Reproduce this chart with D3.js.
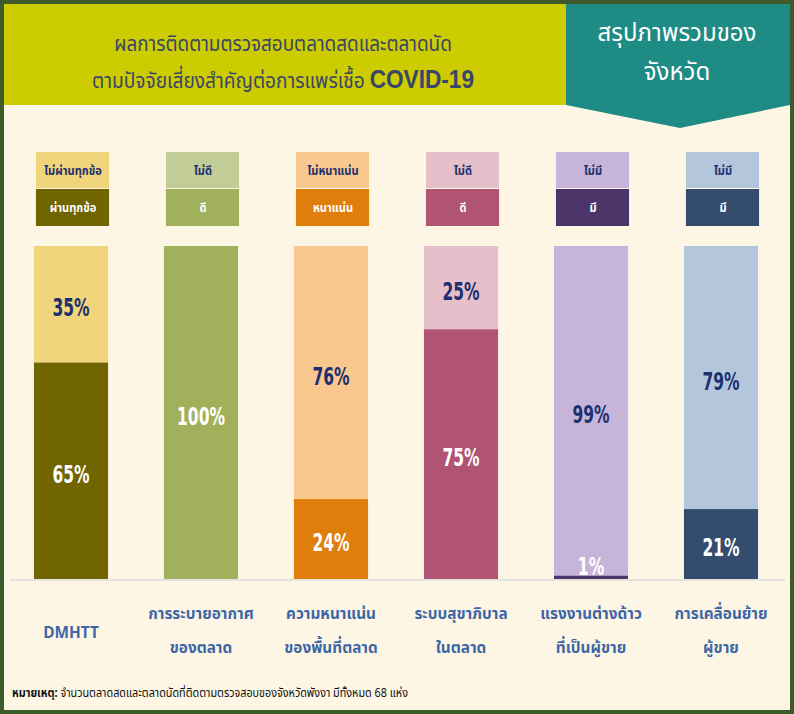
<!DOCTYPE html>
<html>
<head>
<meta charset="utf-8">
<script src="https://cdn.jsdelivr.net/npm/d3@7"></script>
<style>
  body { margin: 0; background: #fdf6e4; }
  svg { display: block; }
</style>
</head>
<body>
<div id="chart"></div>
<script>
// data
const categories = ['DMHTT', 'การระบายอากาศ|ของตลาด', 'ความหนาแน่น|ของพื้นที่ตลาด', 'ระบบสุขาภิบาล|ในตลาด', 'แรงงานต่างด้าว|ที่เป็นผู้ขาย', 'การเคลื่อนย้าย|ผู้ขาย'];
const passValues = [65, 100, 24, 75, 1, 21];
const failValues = [35, 0, 76, 25, 99, 79];
const passLabels = ['ผ่านทุกข้อ', 'ดี', 'หนาแน่น', 'ดี', 'มี', 'มี'];
const failLabels = ['ไม่ผ่านทุกข้อ', 'ไม่ดี', 'ไม่หนาแน่น', 'ไม่ดี', 'ไม่มี', 'ไม่มี'];

const darkColors = ['#706500', '#a1b05a', '#e07e0c', '#b15473', '#4d356a', '#344c6e'];
const lightColors = ['#f0d57a', '#c2cc96', '#f8c88f', '#e5bfca', '#c6b4d9', '#b4c6dc'];

const width = 794;
const height = 714;
const thaiFont = "'Noto Sans Thai', 'Noto Sans Thai UI', 'Loma', 'Garuda', 'Tahoma', sans-serif";
const numFont = "'DejaVu Sans', sans-serif";

const rows = categories.map((c, i) => ({
  cat: c,
  pass: passValues[i],
  fail: failValues[i],
  passLabel: passLabels[i],
  failLabel: failLabels[i],
  dark: darkColors[i],
  light: lightColors[i]
}));

const svg = d3.select('#chart')
    .append('svg')
    .attr('width', width)
    .attr('height', height);

// squeeze text sideways, the source uses condensed fonts
function placeText(parent, px, py, sx) {
  return parent.append('text')
      .attr('transform', `translate(${px},${py}) scale(${sx},1)`);
}

svg.append('rect')
    .attr('width', width)
    .attr('height', height)
    .attr('fill', '#fdf6e4');

// header
svg.append('rect')
    .attr('x', 4).attr('y', 4)
    .attr('width', 562).attr('height', 101)
    .attr('fill', '#cccc00');

svg.append('path')
    .attr('d', 'M566,4 L790,4 L790,105 L680,128 L566,105 Z')
    .attr('fill', '#1e8b84');

const title = svg.append('g')
    .attr('font-family', thaiFont)
    .attr('fill', '#3a4668')
    .attr('text-anchor', 'middle');

placeText(title, 283, 51, 0.86)
    .attr('font-size', 22)
    .text('ผลการติดตามตรวจสอบตลาดสดและตลาดนัด');

const line2 = placeText(title, 283, 88, 0.87)
    .attr('font-size', 22);
line2.append('tspan').text('ตามปัจจัยเสี่ยงสำคัญต่อการแพร่เชื้อ ');
line2.append('tspan')
    .attr('font-family', "'Liberation Sans', Arial, sans-serif")
    .attr('font-weight', 'bold')
    .attr('font-size', 26)
    .text('COVID-19');

svg.append('text')
    .attr('x', 677).attr('y', 41)
    .attr('text-anchor', 'middle')
    .attr('font-family', thaiFont)
    .attr('font-size', 24)
    .attr('fill', '#ffffff')
    .text('สรุปภาพรวมของ');

svg.append('text')
    .attr('x', 677).attr('y', 80)
    .attr('text-anchor', 'middle')
    .attr('font-family', thaiFont)
    .attr('font-size', 24)
    .attr('fill', '#ffffff')
    .text('จังหวัด');

// scales
const x = d3.scaleBand()
    .domain(categories)
    .range([6, 786])
    .paddingInner(0.43)
    .paddingOuter(0.215);

const y = d3.scaleLinear()
    .domain([0, 100])
    .range([579, 246]);

const bw = x.bandwidth();

// legend boxes
const legend = svg.append('g')
    .selectAll('g')
    .data(rows)
    .join('g')
    .attr('transform', d => `translate(${x(d.cat) + 2},0)`);

legend.append('rect')
    .attr('y', 152).attr('width', bw - 1).attr('height', 36)
    .attr('fill', d => d.light);

legend.append('rect')
    .attr('y', 189).attr('width', bw - 1).attr('height', 37)
    .attr('fill', d => d.dark);

legend.each(function(d) {
  const g = d3.select(this);
  placeText(g, bw / 2, 175, 0.85)
      .attr('text-anchor', 'middle')
      .attr('font-family', thaiFont)
      .attr('font-weight', 'bold')
      .attr('font-size', 13)
      .attr('fill', '#1c2f6e')
      .text(d.failLabel);
  placeText(g, bw / 2, 212, 0.85)
      .attr('text-anchor', 'middle')
      .attr('font-family', thaiFont)
      .attr('font-weight', 'bold')
      .attr('font-size', 13)
      .attr('fill', '#ffffff')
      .text(d.passLabel);
});

// bars
const bars = svg.append('g')
    .selectAll('g')
    .data(rows)
    .join('g')
    .attr('transform', d => `translate(${x(d.cat)},0)`);

bars.append('rect')
    .attr('y', d => y(d.pass + d.fail))
    .attr('width', bw)
    .attr('height', d => y(d.pass) - y(d.pass + d.fail))
    .attr('fill', d => d.light);

bars.append('rect')
    .attr('y', d => y(d.pass))
    .attr('width', bw)
    .attr('height', d => y(0) - y(d.pass))
    .attr('fill', d => d.dark);

// value labels
bars.each(function(d) {
  const g = d3.select(this);
  if (d.fail > 0) {
    const cy = (y(d.pass) + y(d.pass + d.fail)) / 2;
    placeText(g, bw / 2, cy + 12, 0.62)
        .attr('text-anchor', 'middle')
        .attr('font-family', numFont)
        .attr('font-weight', 'bold')
        .attr('font-size', 25)
        .attr('fill', '#1c2f6e')
        .text(d.fail + '%');
  }
  const h = y(0) - y(d.pass);
  const cy = h < 30 ? y(d.pass) - 13 : y(d.pass) + h / 2;
  placeText(g, bw / 2, cy + 12, 0.62)
      .attr('text-anchor', 'middle')
      .attr('font-family', numFont)
      .attr('font-weight', 'bold')
      .attr('font-size', 25)
      .attr('fill', '#ffffff')
      .text(d.pass + '%');
});

// baseline
svg.append('line')
    .attr('x1', 10).attr('x2', 785)
    .attr('y1', 580).attr('y2', 580)
    .attr('stroke', '#dedede')
    .attr('stroke-width', 1.5);

// category labels
svg.append('g')
    .selectAll('g')
    .data(categories)
    .join('g')
    .each(function(d) {
      const lines = d.split('|');
      const cx = x(d) + bw / 2;
      const top = lines.length === 1 ? 638 : 619;
      lines.forEach((ln, k) => {
        placeText(d3.select(this), cx, top + k * 34, 0.93)
            .attr('text-anchor', 'middle')
            .attr('font-family', thaiFont)
            .attr('font-weight', 'bold')
            .attr('font-size', 16.5)
            .attr('fill', '#3d66a6')
            .text(ln);
      });
    });

// footnote
const note = placeText(svg, 12, 697, 0.9)
    .attr('font-family', thaiFont)
    .attr('font-size', 12)
    .attr('fill', '#111111');
note.append('tspan').attr('font-weight', 'bold').text('หมายเหตุ:');
note.append('tspan').text(' จำนวนตลาดสดและตลาดนัดที่ติดตามตรวจสอบของจังหวัดพังงา มีทั้งหมด 68 แห่ง');

// outer frame
svg.append('rect')
    .attr('x', 2).attr('y', 2)
    .attr('width', width - 4).attr('height', height - 4)
    .attr('fill', 'none')
    .attr('stroke', '#3d5a2b')
    .attr('stroke-width', 4);
</script>
</body>
</html>
